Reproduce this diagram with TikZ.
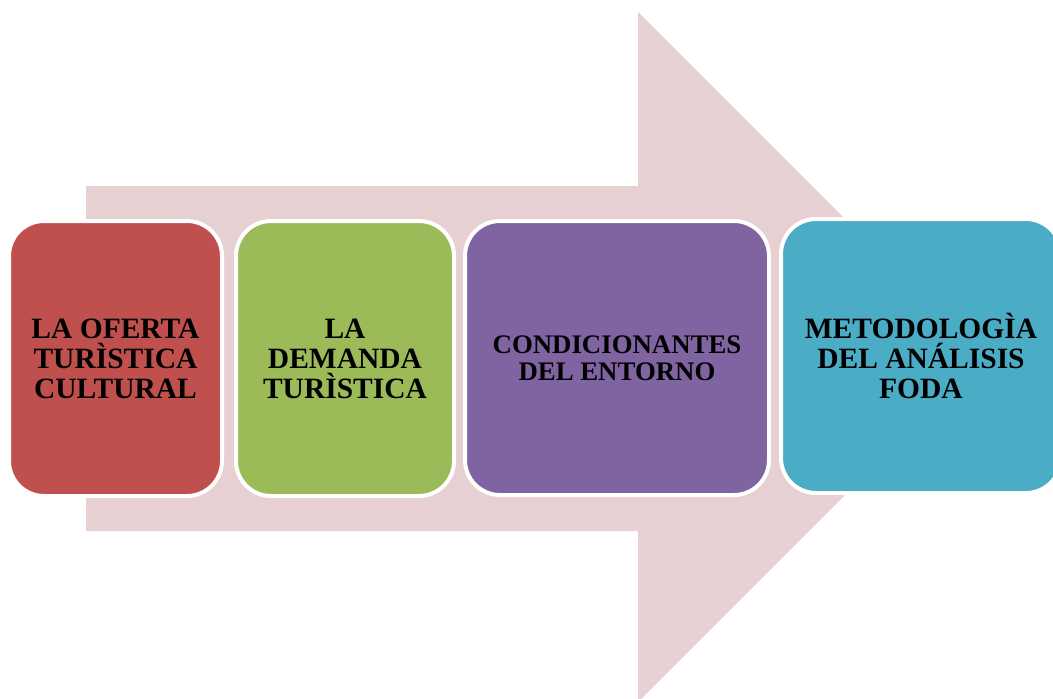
\documentclass[tikz,border=0pt]{standalone}
\usepackage{fontspec}
\setmainfont{Liberation Serif}
\definecolor{arrowpink}{RGB}{231,208,209}
\definecolor{cred}{RGB}{192,80,77}
\definecolor{cgreen}{RGB}{155,187,89}
\definecolor{cpurple}{RGB}{128,100,162}
\definecolor{cteal}{RGB}{75,172,198}
\tikzset{
  stagebox/.style={draw=white, line width=4pt, rounded corners=35pt, align=center, inner sep=0pt,
    font=\bfseries\fontsize{29.5}{30}\selectfont, text=black},
}
\begin{document}
\begin{tikzpicture}[x=1pt,y=-1pt]
\useasboundingbox (0,0) rectangle (1053,699);
\clip (0,0) rectangle (1053,699);
\fill[arrowpink] (86,186) -- (638,186) -- (638,12) -- (983,357) -- (638,702) -- (638,531) -- (86,531) -- cycle;
\node[stagebox, fill=cred, minimum width=213pt, minimum height=275pt] (b1) at (115.5,358.5) {LA OFERTA\\TURÌSTICA\\CULTURAL};
\node[stagebox, fill=cgreen, minimum width=218pt, minimum height=275pt] (b2) at (345,358.5) {LA\\DEMANDA\\TURÌSTICA};
\node[stagebox, fill=cpurple, minimum width=304pt, minimum height=274pt, font=\bfseries\fontsize{26.8}{27}\selectfont] (b3) at (617,358) {CONDICIONANTES\\DEL ENTORNO};
\node[stagebox, fill=cteal, minimum width=280pt, minimum height=274pt] (b4) at (921,356) {METODOLOGÌA\\DEL ANÁLISIS\\FODA};
\end{tikzpicture}
\end{document}
